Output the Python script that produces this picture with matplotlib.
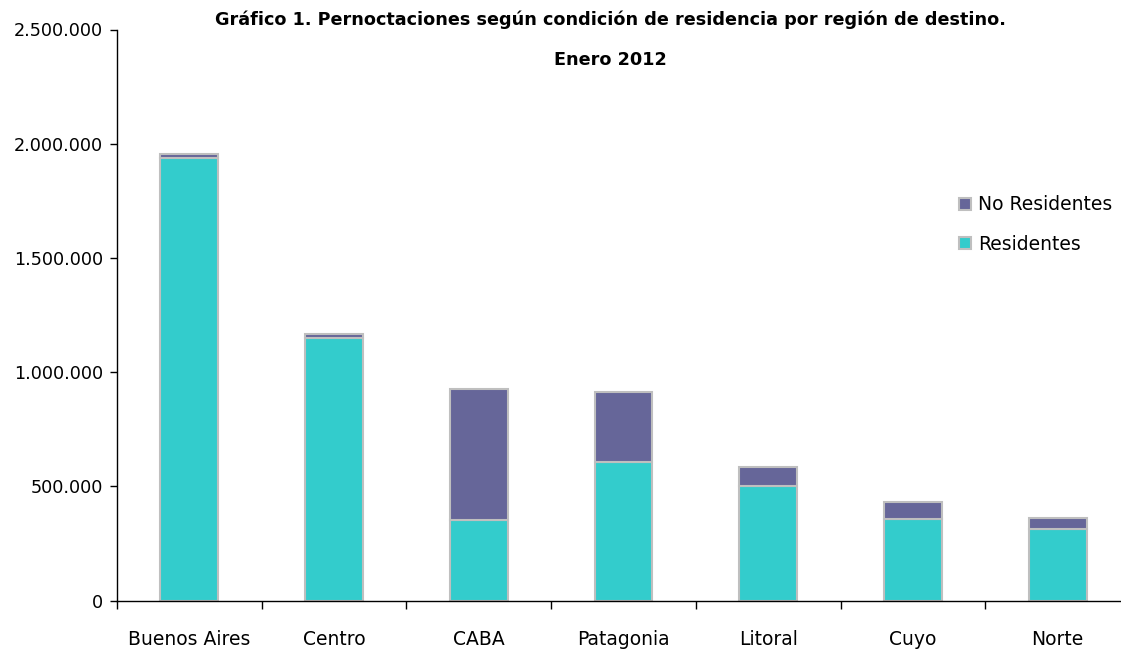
import matplotlib
matplotlib.use("Agg")
import matplotlib.pyplot as plt
from matplotlib.ticker import FuncFormatter, FixedLocator
from matplotlib.patches import Patch

# Pernoctaciones enero 2012
regiones = ["Buenos Aires", "Centro", "CABA", "Patagonia", "Litoral", "Cuyo", "Norte"]
residentes = [1937000, 1150000, 352000, 607000, 502000, 358000, 314000]
no_residentes = [19000, 17000, 576000, 307000, 85000, 73000, 47000]

C_RES = "#33CCCC"
C_NORES = "#666699"
C_EDGE = "#BFBFBF"

plt.rcParams["font.family"] = ["DejaVu Sans"]

fig = plt.figure(figsize=(11.21, 6.49), dpi=100)
ax = fig.add_axes([117 / 1121, 1 - 600.7 / 649, (1130 - 117) / 1121, (600.7 - 29.5) / 649])

x = range(len(regiones))
ax.bar(x, residentes, width=0.4, color=C_RES, edgecolor=C_EDGE, linewidth=1.5)
ax.bar(x, no_residentes, width=0.4, bottom=residentes, color=C_NORES,
       edgecolor=C_EDGE, linewidth=1.5)

ax.set_xlim(-0.5, len(regiones) - 0.5)
ax.set_ylim(0, 2500000)
ax.set_yticks(range(0, 2500001, 500000))
ax.yaxis.set_major_formatter(FuncFormatter(lambda v, p: f"{int(v):,}".replace(",", ".")))

# etiquetas centradas, marcas en los límites de categoría
ax.set_xticks(list(x))
ax.set_xticklabels(regiones, fontsize=13.5)
ax.tick_params(axis="x", which="major", length=0, pad=21)
ax.xaxis.set_minor_locator(FixedLocator([i - 0.5 for i in range(len(regiones) + 1)]))
ax.tick_params(axis="x", which="minor", length=6, width=1, direction="out")
ax.tick_params(axis="y", length=5, width=1, direction="out", labelsize=12.7, pad=5)

for s in ["top", "right"]:
    ax.spines[s].set_visible(False)
ax.spines["left"].set_linewidth(1)
ax.spines["bottom"].set_linewidth(1)

fig.text(610 / 1121, 1 - 20 / 649, "Gráfico 1. Pernoctaciones según condición de residencia por región de destino.",
         ha="center", va="center", fontsize=12.7, fontweight="bold")
fig.text(610 / 1121, 1 - 60 / 649, "Enero 2012", ha="center", va="center",
         fontsize=12.7, fontweight="bold")

handles = [Patch(facecolor=C_NORES, edgecolor=C_EDGE, linewidth=1.5, label="No Residentes"),
           Patch(facecolor=C_RES, edgecolor=C_EDGE, linewidth=1.5, label="Residentes")]
fig.legend(handles=handles, loc="upper left", bbox_to_anchor=(950 / 1121, 1 - 186 / 649),
           frameon=False, fontsize=13.5, handlelength=0.6, handleheight=0.6,
           handletextpad=0.4, labelspacing=1.1, borderpad=0)

fig.savefig("out.png", dpi=100)
